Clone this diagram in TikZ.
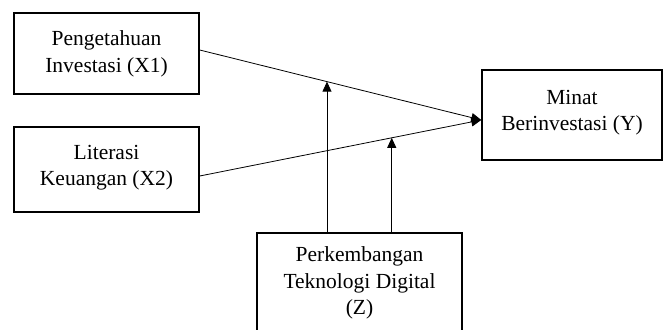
\documentclass[tikz,border=0pt]{standalone}
\usepackage{fontspec}
\setmainfont{Liberation Serif}
\newfontfamily\diagfont{Liberation Serif}
\usetikzlibrary{arrows.meta,calc}
\tikzset{
	varbox/.style={draw,line width=1.5pt,align=center,inner sep=0pt,
		font=\diagfont\fontsize{21.5}{26.5}\selectfont},
	link/.style={line width=0.8pt}
}
\begin{document}
\begin{tikzpicture}[>={Triangle[length=10pt,width=9pt]},x=1pt,y=1pt]
		\clip (0,0) rectangle (663,329);
		\node[varbox,minimum width=185pt,minimum height=81pt] (x1) at (106.5,275.5) {Pengetahuan\\Investasi (X1)\\[-23pt]};
		\node[varbox,minimum width=185pt,minimum height=85pt] (x2) at (106.5,159.5) {Literasi\\Keuangan (X2)\\[-18pt]};
		\node[varbox,minimum width=180pt,minimum height=90pt] (y) at (572,214) {Minat\\Berinvestasi (Y)\\[-17pt]};
		\node[varbox,minimum width=205pt,minimum height=100pt] (z) at (359.5,46) {Perkembangan\\Teknologi Digital\\(Z)};
		% ends of the two main paths
		\coordinate (p1) at ([yshift=3.5pt]x1.east);
		\coordinate (p2) at ([yshift=-6.5pt]x2.east);
		\coordinate (tip) at ([yshift=-5pt]y.west);
		\draw[link,->] (p1) -- (tip);
		\draw[link,->] (p2) -- (tip);
		% moderating arrows
		\coordinate (m1) at ($(p1)!0.452!(tip)$);
		\coordinate (m2) at ($(p2)!0.682!(tip)$);
		\draw[link,->] (m1 |- z.north) -- (m1);
		\draw[link,->] (m2 |- z.north) -- (m2);
\end{tikzpicture}
\end{document}
